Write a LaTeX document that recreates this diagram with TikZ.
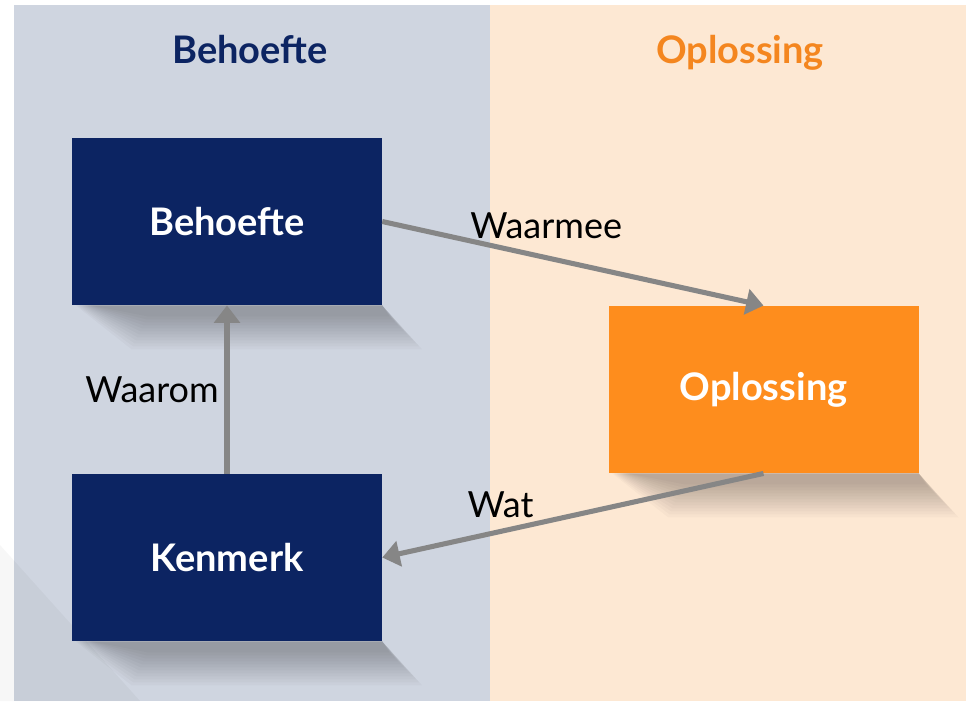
\documentclass[tikz,border=0pt]{standalone}
\usepackage{fontspec}
\setmainfont{Lato}
\usepackage{tikz}
\usetikzlibrary{arrows.meta,calc}

\definecolor{navy}{RGB}{12,36,98}
\definecolor{oranje}{RGB}{254,141,29}
\definecolor{koporanje}{RGB}{244,134,31}
\definecolor{lichtblauw}{RGB}{207,213,224}
\definecolor{lichtoranje}{RGB}{253,232,211}
\definecolor{pijlgrijs}{RGB}{134,134,134}

\pgfdeclarelayer{bg}
\pgfsetlayers{bg,main}

\tikzset{
  blok/.style={rectangle, inner sep=0pt, minimum width=232.5pt, minimum height=125.5pt,
    text=white, font=\fontsize{28.5}{34}\selectfont\bfseries},
  kop/.style={anchor=base, font=\fontsize{28.5}{34}\selectfont\bfseries},
  pijl/.style={draw=pijlgrijs, line width=3.8pt, -{Triangle[length=13pt,width=19pt]}},
  tekst/.style={text=black, font=\fontsize{27}{32}\selectfont}
}

% schaduw onder een blok
\newcommand{\blokschaduw}[1]{%
  \foreach \s in {0,...,11}
    \fill[black, opacity=0.022]
      ($(#1.south west)+(4+\s*1.5,0)$) -- ($(#1.south east)$)
      -- ($(#1.south east)+(40-\s*3,44-\s*3)$)
      -- ($(#1.south west)+(60+\s*1.5,44-\s*3)$) -- cycle;}

\begin{document}
\begin{tikzpicture}[x=0.75pt,y=-0.75pt]
\useasboundingbox (0,0) rectangle (969,701);

% blokken
\node[blok, fill=navy] (beh) at (227,221.5) {Behoefte};
\node[blok, fill=navy] (ken) at (227,557.5) {Kenmerk};
\node[blok, fill=oranje] (opl) at (763.5,389.5) {Oplossing};

% koppen
\node[kop, text=navy] (kopbeh) at (250,63) {Behoefte};
\node[kop, text=koporanje] (kopopl) at (740,63) {Oplossing};

\begin{pgfonlayer}{bg}
\fill[lichtblauw] (14,5) rectangle (490,701);
\fill[lichtoranje] (490,5) rectangle (966,701);
\fill[black, opacity=0.03] (0,545) -- (140,701) -- (0,701) -- cycle;
\blokschaduw{beh}
\blokschaduw{ken}
\blokschaduw{opl}
\end{pgfonlayer}

\path
(ken) edge [pijl] node [tekst, left, xshift=-1pt] (lwaarom) {Waarom} (beh)
(beh.east) edge [pijl] node [tekst, pos=0.43, anchor=south, yshift=9pt] (lwaarmee) {Waarmee} (opl.north)
(opl.south) edge [pijl] node [tekst, pos=0.69, anchor=south, yshift=5pt] (lwat) {Wat} (ken.east);
\end{tikzpicture}
\end{document}
